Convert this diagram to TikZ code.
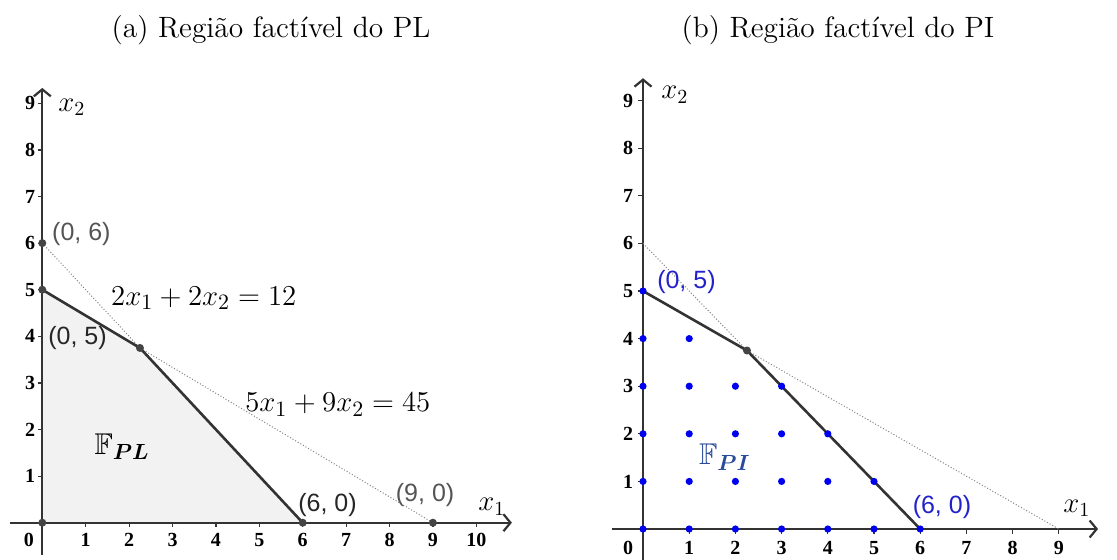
\documentclass[tikz,border=0pt]{standalone}
\usepackage{amsmath}
\usepackage{amssymb}
\usepackage{fontspec}
\newfontfamily\ggbfont{Liberation Sans}
\newfontfamily\tickfont{Liberation Serif}
\usepackage{tikz}
\usetikzlibrary{arrows.meta,positioning}

\definecolor{axisgray}{HTML}{333333}
\definecolor{dotgray}{HTML}{444444}
\definecolor{labelgray}{HTML}{555555}
\definecolor{regiongray}{HTML}{F2F2F2}
\definecolor{ptblue}{HTML}{0000F0}
\definecolor{lblblue}{HTML}{2222CC}
\definecolor{fblue}{HTML}{2A4A9A}

\begin{document}
\begin{tikzpicture}[
  x=0.5pt, y=0.5pt,
  title/.style={font=\fontsize{14.7}{17}\selectfont, inner sep=0pt},
  axis/.style={draw=axisgray, line width=1.1pt},
  axisarrow/.style={axis, -{Straight Barb[length=3.5pt,width=8.5pt]}},
  edge/.style={draw=axisgray, line width=1.3pt, line join=round},
  guide/.style={draw=gray, line width=0.5pt, dash pattern=on 0.5pt off 1pt},
  ticklbl/.style={font=\tickfont\bfseries\fontsize{10}{11}\selectfont, inner sep=0pt},
  varlbl/.style={font=\fontsize{14}{16}\selectfont, inner sep=0pt},
  eqlbl/.style={font=\fontsize{15.5}{17}\selectfont, inner sep=0pt},
  ggb/.style={font=\ggbfont\fontsize{12.5}{14}\selectfont, inner sep=0pt},
  setlbl/.style={font=\fontsize{15}{17}\selectfont, inner sep=0pt}
]
\useasboundingbox (0,0) rectangle (1117,559);

% Titles
\node[title] (ta) at (271,529) {(a) Região factível do PL};
\node[title] (tb) at (838,529) {(b) Região factível do PI};

% (a) feasible region of the LP
\begin{scope}[shift={(21.15pt,18.15pt)}, x=21.7pt, y=23.3pt]
  \coordinate (O) at (0,0);
  \coordinate (P05) at (0,5);
  \coordinate (P06) at (0,6);
  \coordinate (V) at (2.25,3.75);
  \coordinate (P60) at (6,0);
  \coordinate (P90) at (9,0);
  \coordinate (xs) at (-0.74,0);
  \coordinate (xe) at (10.82,0);
  \coordinate (ys) at (0,-0.7);
  \coordinate (ye) at (0,9.33);

  \fill[regiongray] (O) -- (P05) -- (V) -- (P60) -- cycle;

  % axes and ticks
  \draw[axisarrow] (xs) -- (xe);
  \draw[axisarrow] (ys) -- (ye);
  \foreach \i in {1,...,10} {
    \draw[axis, line width=0.6pt] (\i,0) -- (\i,-0.1);
    \node[ticklbl] (xta\i) at (\i,-0.37) {\i};
  }
  \foreach \j in {1,...,9} {
    \draw[axis, line width=0.6pt] (0,\j) -- (-0.1,\j);
    \node[ticklbl] (yta\j) at (-0.28,\j) {\j};
  }
  \node[ticklbl] (zta) at (-0.31,-0.37) {0};
  \node[varlbl] (x1a) at (10.36,0.34) {$x_1$};
  \node[varlbl] (x2a) at (0.68,8.92) {$x_2$};

  % constraints and boundary
  \draw[guide] (P06) -- (V) -- (P90);
  \draw[edge] (P05) -- (V) -- (P60);
  \foreach \p in {O,P05,P06,V,P60,P90}
    \fill[dotgray] (\p) circle (2pt);

  % labels
  \node[ggb, text=labelgray, anchor=west] (l06) at (0.22,6.19) {(0, 6)};
  \node[ggb, text=black!85, anchor=west] (l05) at (0.13,3.96) {(0, 5)};
  \node[ggb, text=black!85, anchor=west] (l60) at (5.89,0.38) {(6, 0)};
  \node[ggb, text=labelgray] (l90) at (8.82,0.59) {(9, 0)};
  \node[eqlbl] (eq1) at (3.72,4.82) {$2x_1 + 2x_2 = 12$};
  \node[eqlbl] (eq2) at (6.81,2.53) {$5x_1 + 9x_2 = 45$};
  \node[setlbl] (fpl) at (1.84,1.63) {$\mathbb{F}_{\boldsymbol{PL}}$};
\end{scope}

% (b) feasible region of the IP
\begin{scope}[shift={(321.5pt,15pt)}, x=23.1pt, y=23.8pt]
  \coordinate (Ob) at (0,0);
  \coordinate (Q05) at (0,5);
  \coordinate (Q06) at (0,6);
  \coordinate (W) at (2.25,3.75);
  \coordinate (Q60) at (6,0);
  \coordinate (Q90) at (9,0);
  \coordinate (xsb) at (-0.67,0);
  \coordinate (xeb) at (9.85,0);
  \coordinate (ysb) at (0,-0.65);
  \coordinate (yeb) at (0,9.47);

  % axes and ticks
  \draw[axisarrow] (xsb) -- (xeb);
  \draw[axisarrow] (ysb) -- (yeb);
  \foreach \i in {1,...,9} {
    \draw[axis, line width=0.6pt] (\i,0) -- (\i,-0.1);
    \node[ticklbl] (xtb\i) at (\i,-0.4) {\i};
  }
  \foreach \j in {1,...,9} {
    \draw[axis, line width=0.6pt] (0,\j) -- (-0.1,\j);
    \node[ticklbl] (ytb\j) at (-0.32,\j) {\j};
  }
  \node[ticklbl] (ztb) at (-0.32,-0.4) {0};
  \node[varlbl] (x1b) at (9.39,0.44) {$x_1$};
  \node[varlbl] (x2b) at (0.69,9.12) {$x_2$};

  % constraints and boundary
  \draw[guide] (Q06) -- (W) -- (Q90);
  \draw[edge] (Q05) -- (W) -- (Q60);
  \fill[dotgray] (W) circle (2pt);

  % integer points
  \foreach \i in {0,...,6} \fill[ptblue] (\i,0) circle (1.8pt);
  \foreach \i in {0,...,5} \fill[ptblue] (\i,1) circle (1.8pt);
  \foreach \i in {0,...,4} \fill[ptblue] (\i,2) circle (1.8pt);
  \foreach \i in {0,...,3} \fill[ptblue] (\i,3) circle (1.8pt);
  \foreach \i in {0,1} \fill[ptblue] (\i,4) circle (1.8pt);
  \fill[ptblue] (Q05) circle (1.8pt);

  % labels
  \node[ggb, text=lblblue, anchor=west] (m05) at (0.3,5.19) {(0, 5)};
  \node[ggb, text=lblblue] (m60) at (6.47,0.46) {(6, 0)};
  \node[setlbl, text=fblue] (fpi) at (1.77,1.51) {$\mathbb{F}_{\boldsymbol{PI}}$};
\end{scope}

\end{tikzpicture}
\end{document}
